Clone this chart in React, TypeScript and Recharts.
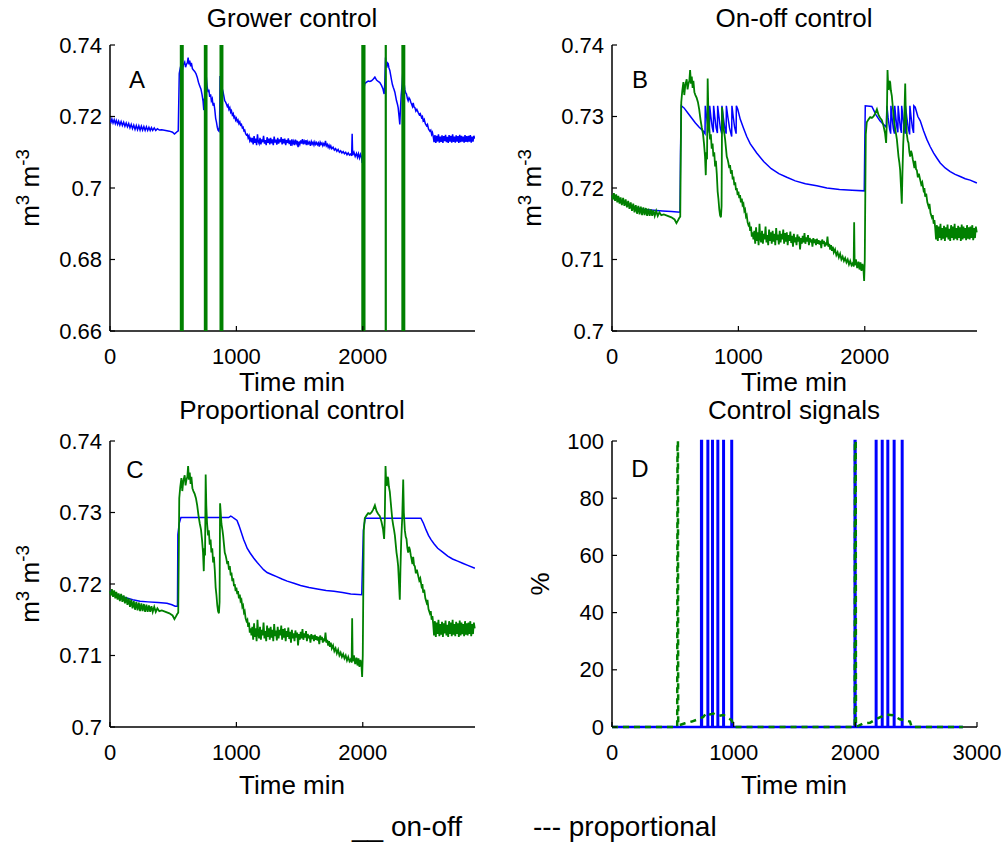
import React from 'react';
import { LineChart, Line, XAxis, YAxis } from 'recharts';

const FONT = '"Liberation Sans", Arial, Helvetica, sans-serif';
const BLUE = '#0000ff';
const GREEN = '#008000';

type Pt = [number, number];

// measured substrate moisture (m3 m-3), time in minutes
const measured: Pt[] = [
  [0, 0.719], [8, 0.7184], [15, 0.7193], [24, 0.7182], [33, 0.7191], [42, 0.718], [50, 0.7189], [60, 0.7178],
  [68, 0.7187], [78, 0.7176], [88, 0.7186], [98, 0.7175], [108, 0.7184], [118, 0.7173], [128, 0.7182], [138, 0.7171],
  [148, 0.718], [158, 0.7168], [168, 0.7178], [178, 0.7166], [188, 0.7176], [198, 0.7164], [208, 0.7175], [218, 0.7163],
  [228, 0.7174], [238, 0.7162], [248, 0.7173], [258, 0.7162], [268, 0.7172], [278, 0.7161], [288, 0.7171], [298, 0.7161],
  [308, 0.717], [318, 0.7161], [328, 0.7169], [338, 0.7161], [350, 0.7168], [362, 0.7161], [375, 0.7166], [390, 0.7162],
  [410, 0.7163], [440, 0.7161], [470, 0.7159], [495, 0.7156], [510, 0.7151], [520, 0.7154], [532, 0.7158], [540, 0.716],
  [548, 0.732], [556, 0.7336], [565, 0.7348], [572, 0.733], [580, 0.7344], [591, 0.7352], [598, 0.7338], [604, 0.7345],
  [612, 0.735], [618, 0.7365], [625, 0.7346], [631, 0.7356], [638, 0.734], [644, 0.735], [652, 0.7334], [660, 0.733],
  [670, 0.7326], [680, 0.732], [690, 0.731], [700, 0.7296], [710, 0.7285], [720, 0.7276], [728, 0.7262], [736, 0.7244],
  [742, 0.7218], [746, 0.725], [752, 0.724], [757, 0.7353], [762, 0.731], [768, 0.7285], [776, 0.7268], [782, 0.7275],
  [789, 0.7255], [796, 0.7262], [802, 0.7244], [809, 0.725], [816, 0.723], [822, 0.7238], [829, 0.722], [836, 0.7195],
  [842, 0.7185], [849, 0.717], [855, 0.7162], [862, 0.7159], [867, 0.7175], [871, 0.7313], [876, 0.73], [882, 0.7284],
  [890, 0.7275], [895, 0.7268], [902, 0.7255], [908, 0.7244], [915, 0.724], [921, 0.7235], [928, 0.7228], [934, 0.7232],
  [941, 0.722], [948, 0.7225], [955, 0.7212], [961, 0.7216], [968, 0.7204], [975, 0.7208], [981, 0.7197], [987, 0.72],
  [994, 0.719], [1000, 0.7195], [1007, 0.7186], [1013, 0.719], [1020, 0.718], [1027, 0.7185], [1033, 0.7176], [1040, 0.7178],
  [1047, 0.7168], [1053, 0.717], [1060, 0.716], [1066, 0.7162], [1073, 0.7152], [1080, 0.7148], [1087, 0.715], [1093, 0.714],
  [1100, 0.7146], [1106, 0.7132], [1113, 0.7138], [1119, 0.7128], [1126, 0.714], [1133, 0.7122], [1140, 0.7145], [1146, 0.7126],
  [1153, 0.7138], [1160, 0.712], [1167, 0.715], [1173, 0.713], [1180, 0.7124], [1187, 0.714], [1194, 0.7122], [1201, 0.7136],
  [1208, 0.7128], [1215, 0.7146], [1222, 0.7124], [1229, 0.7134], [1236, 0.712], [1243, 0.7142], [1250, 0.7126], [1257, 0.7138],
  [1264, 0.7122], [1271, 0.714], [1278, 0.7125], [1285, 0.7136], [1292, 0.712], [1299, 0.7144], [1306, 0.7127], [1313, 0.7135],
  [1320, 0.7121], [1327, 0.714], [1334, 0.7124], [1341, 0.7136], [1348, 0.7128], [1355, 0.7142], [1362, 0.7122], [1369, 0.7137],
  [1376, 0.7125], [1383, 0.7138], [1390, 0.712], [1397, 0.7134], [1404, 0.7126], [1411, 0.7139], [1418, 0.7123], [1425, 0.7133],
  [1432, 0.7118], [1439, 0.7136], [1446, 0.7124], [1453, 0.7131], [1460, 0.712], [1467, 0.7135], [1474, 0.7125], [1481, 0.7132],
  [1488, 0.7114], [1495, 0.713], [1502, 0.7122], [1509, 0.7133], [1516, 0.7124], [1523, 0.7137], [1530, 0.7122], [1537, 0.7131],
  [1544, 0.7125], [1551, 0.7134], [1558, 0.712], [1565, 0.713], [1572, 0.7124], [1579, 0.7128], [1586, 0.7118], [1593, 0.713],
  [1600, 0.7123], [1607, 0.7128], [1614, 0.712], [1621, 0.7129], [1628, 0.7122], [1635, 0.7127], [1642, 0.7121], [1649, 0.7126],
  [1656, 0.7116], [1663, 0.7128], [1670, 0.7122], [1677, 0.7126], [1684, 0.7118], [1691, 0.7124], [1698, 0.712], [1705, 0.7132],
  [1712, 0.7118], [1719, 0.7122], [1726, 0.7114], [1733, 0.712], [1740, 0.7112], [1747, 0.7118], [1755, 0.711], [1765, 0.7114],
  [1775, 0.7106], [1785, 0.711], [1795, 0.7103], [1805, 0.7108], [1815, 0.71], [1825, 0.7104], [1835, 0.7098], [1845, 0.7102],
  [1855, 0.7096], [1865, 0.71], [1875, 0.7093], [1885, 0.7098], [1895, 0.7092], [1905, 0.7095], [1912, 0.709], [1916, 0.7152],
  [1920, 0.7092], [1930, 0.71], [1940, 0.7088], [1950, 0.7097], [1958, 0.7086], [1966, 0.7096], [1974, 0.7084], [1982, 0.7094],
  [1990, 0.7085], [1995, 0.707], [2000, 0.71], [2008, 0.7275], [2016, 0.7292], [2030, 0.7296], [2043, 0.7299], [2056, 0.7298],
  [2069, 0.73], [2082, 0.7304], [2096, 0.731], [2109, 0.7302], [2122, 0.7298], [2135, 0.7295], [2148, 0.7287], [2160, 0.7277],
  [2169, 0.7263], [2174, 0.729], [2180, 0.7365], [2186, 0.734], [2191, 0.7339], [2196, 0.735], [2201, 0.7348], [2207, 0.7336],
  [2214, 0.7329], [2221, 0.7315], [2228, 0.7301], [2234, 0.729], [2241, 0.7282], [2248, 0.7275], [2254, 0.7268], [2261, 0.7255],
  [2267, 0.7244], [2274, 0.7235], [2280, 0.7225], [2287, 0.72], [2293, 0.7178], [2298, 0.722], [2304, 0.726], [2312, 0.7292],
  [2320, 0.7346], [2325, 0.73], [2333, 0.7275], [2340, 0.7266], [2346, 0.7263], [2353, 0.725], [2359, 0.7244], [2366, 0.7252],
  [2373, 0.7248], [2380, 0.724], [2386, 0.7235], [2393, 0.7228], [2399, 0.7238], [2406, 0.7226], [2412, 0.7225], [2420, 0.7215],
  [2428, 0.722], [2439, 0.7211], [2447, 0.7205], [2455, 0.7208], [2465, 0.7197], [2472, 0.72], [2478, 0.7188], [2486, 0.7192],
  [2495, 0.718], [2505, 0.7174], [2512, 0.7178], [2520, 0.7165], [2531, 0.7159], [2538, 0.7162], [2545, 0.715], [2551, 0.7155],
  [2557, 0.7145], [2564, 0.7128], [2571, 0.7148], [2578, 0.7126], [2585, 0.7146], [2592, 0.713], [2599, 0.715], [2606, 0.7127],
  [2613, 0.7144], [2620, 0.7129], [2627, 0.7147], [2634, 0.7126], [2641, 0.7145], [2648, 0.7131], [2655, 0.7149], [2662, 0.7128],
  [2669, 0.7143], [2676, 0.7126], [2683, 0.7148], [2690, 0.713], [2697, 0.7146], [2704, 0.7127], [2711, 0.715], [2718, 0.7129],
  [2725, 0.7144], [2732, 0.7127], [2739, 0.7147], [2746, 0.713], [2753, 0.7145], [2760, 0.7126], [2767, 0.7149], [2774, 0.7128],
  [2781, 0.7146], [2788, 0.713], [2795, 0.7144], [2802, 0.7127], [2809, 0.7148], [2816, 0.7129], [2823, 0.7145], [2830, 0.7128],
  [2837, 0.7146], [2844, 0.713], [2851, 0.7148], [2858, 0.7127], [2865, 0.7144], [2872, 0.713], [2879, 0.7146], [2886, 0.7138],
];

// simulated moisture, on-off control
const onOffSim: Pt[] = [
  [0, 0.7188], [40, 0.7186], [80, 0.7181], [120, 0.7177], [160, 0.7174], [200, 0.7172], [260, 0.717], [330, 0.7169],
  [400, 0.7168], [470, 0.7167], [538, 0.7166], [542, 0.725], [548, 0.7315], [570, 0.7312], [600, 0.7305], [630, 0.7298],
  [660, 0.7291], [690, 0.7285], [715, 0.7281], [736, 0.7276], [738, 0.7315], [748, 0.73], [760, 0.7285], [771, 0.7277],
  [773, 0.7315], [782, 0.73], [793, 0.7285], [802, 0.7278], [804, 0.7315], [813, 0.73], [824, 0.7284], [834, 0.7277],
  [836, 0.7315], [846, 0.73], [857, 0.7284], [868, 0.7276], [870, 0.7315], [880, 0.73], [892, 0.7284], [903, 0.7276],
  [905, 0.7315], [916, 0.73], [930, 0.7284], [947, 0.7272], [949, 0.7315], [959, 0.73], [970, 0.7285], [982, 0.7276],
  [984, 0.7315], [995, 0.731], [1015, 0.7296], [1040, 0.7284], [1066, 0.7272], [1093, 0.7262], [1145, 0.7249], [1200, 0.7237],
  [1260, 0.7227], [1320, 0.722], [1383, 0.7215], [1450, 0.721], [1530, 0.7206], [1620, 0.7203], [1700, 0.72], [1800, 0.7198],
  [1900, 0.7197], [1996, 0.7196], [2000, 0.726], [2004, 0.7315], [2056, 0.7314], [2090, 0.7302], [2120, 0.7294], [2148, 0.7289],
  [2170, 0.7285], [2175, 0.7315], [2185, 0.7298], [2197, 0.7282], [2205, 0.7276], [2207, 0.7315], [2216, 0.7298], [2226, 0.7283],
  [2235, 0.7276], [2237, 0.7315], [2246, 0.7298], [2255, 0.7284], [2262, 0.7278], [2264, 0.7315], [2273, 0.7298], [2282, 0.7284],
  [2290, 0.7277], [2292, 0.7315], [2302, 0.7298], [2312, 0.7283], [2320, 0.7276], [2322, 0.7315], [2333, 0.7298], [2345, 0.7283],
  [2355, 0.7275], [2357, 0.7315], [2366, 0.73], [2377, 0.7284], [2386, 0.7277], [2388, 0.7315], [2399, 0.7313], [2420, 0.73],
  [2439, 0.7294], [2465, 0.728], [2491, 0.7268], [2517, 0.7258], [2544, 0.7249], [2570, 0.7242], [2597, 0.7235], [2636, 0.7228],
  [2676, 0.7223], [2715, 0.7219], [2755, 0.7216], [2795, 0.7213], [2834, 0.7211], [2887, 0.7207],
];

// simulated moisture, proportional control
const propSim: Pt[] = [
  [0, 0.719], [60, 0.7185], [120, 0.7181], [180, 0.7178], [238, 0.7176], [300, 0.7175], [380, 0.7174], [450, 0.7173],
  [490, 0.7171], [516, 0.7169], [534, 0.7169], [537, 0.7269], [548, 0.7285], [561, 0.7293], [700, 0.7293], [800, 0.7293],
  [900, 0.7293], [939, 0.7293], [955, 0.7295], [966, 0.7294], [980, 0.7292], [1005, 0.7289], [1020, 0.7282], [1032, 0.7276],
  [1045, 0.7269], [1058, 0.7262], [1072, 0.7256], [1085, 0.725], [1110, 0.7243], [1138, 0.7236], [1165, 0.723], [1190, 0.7225],
  [1215, 0.722], [1243, 0.7216], [1283, 0.7213], [1323, 0.721], [1360, 0.7207], [1402, 0.7204], [1455, 0.7201], [1508, 0.7198],
  [1575, 0.7195], [1640, 0.7193], [1710, 0.7191], [1772, 0.719], [1840, 0.7188], [1905, 0.7186], [1992, 0.7185], [1998, 0.723],
  [2005, 0.7275], [2019, 0.7292], [2200, 0.7292], [2300, 0.7292], [2400, 0.7292], [2460, 0.7292], [2480, 0.7285], [2500, 0.7276],
  [2520, 0.7268], [2540, 0.7262], [2565, 0.7256], [2593, 0.725], [2630, 0.7245], [2672, 0.7239], [2710, 0.7235], [2751, 0.7232],
  [2790, 0.7229], [2831, 0.7226], [2887, 0.7222],
];

// grower irrigation events: [start min, duration min]
const growerIrrigation: Pt[] = [[561, 14], [751, 12], [875, 14], [1997, 16], [2182, 0], [2314, 14]];

// on-off valve pulses in panel D: [start min, duration min]
const onOffPulses: Pt[] = [
  [733, 6], [786, 4], [824, 4], [868, 4], [915, 4], [982, 4],
  [1995, 6], [2169, 4], [2219, 4], [2265, 4], [2317, 4], [2383, 4],
];

// proportional control signal (%)
const propSignal: Pt[] = [
  [0, 0], [536, 0], [538, 100], [542, 100], [544, 0.5], [600, 1.3], [655, 1.9], [709, 2.7], [750, 3.5], [778, 5.0],
  [805, 4.4], [832, 4.7], [873, 3.9], [915, 4.2], [956, 3.2], [984, 2.3], [997, 0.9], [1011, 0], [1995, 0], [1997, 100],
  [2003, 100], [2005, 0], [2063, 1.2], [2120, 1.5], [2161, 2.5], [2227, 3.9], [2270, 4.3], [2309, 4.1], [2366, 2.7],
  [2449, 1.9], [2463, 0], [2884, 0],
];

const SIGNAL_END = 2884;
const T_MAX = 2888;

const moistureTicksA = [0.66, 0.68, 0.7, 0.72, 0.74];
const moistureTicksBC = [0.7, 0.71, 0.72, 0.73, 0.74];
const signalTicks = [0, 20, 40, 60, 80, 100];
const timeTicks = [0, 1000, 2000];
const timeTicksD = [0, 1000, 2000, 3000];

const toRows = (pts: Pt[]) => pts.map(([t, v]) => ({ t, v }));

// on/off events -> square pulses between 0 and 100 %
const pulseRows = (events: Pt[], end: number) => {
  const rows = [{ t: 0, v: 0 }];
  events.forEach(([start, dur]) => {
    rows.push({ t: start, v: 0 }, { t: start, v: 100 }, { t: start + dur, v: 100 }, { t: start + dur, v: 0 });
  });
  rows.push({ t: end, v: 0 });
  return rows;
};

const TICK_LEN = 5;
const tickStyle = { fontFamily: FONT, fontSize: 22, fill: '#000' };

const BottomTick = (p: any) => (
  <g>
    <line x1={p.x} x2={p.x} y1={p.y} y2={p.y - TICK_LEN} stroke="#000" strokeWidth={1.2} />
    <text x={p.x} y={p.y + 25} textAnchor="middle" dominantBaseline="central" style={tickStyle}>
      {p.payload.value}
    </text>
  </g>
);
const LeftTick = (p: any) => (
  <g>
    <line x1={p.x} x2={p.x + TICK_LEN} y1={p.y} y2={p.y} stroke="#000" strokeWidth={1.2} />
    <text x={p.x - 8} y={p.y} textAnchor="end" dominantBaseline="central" style={tickStyle}>
      {p.payload.value}
    </text>
  </g>
);
const TopTick = (p: any) => (
  <line x1={p.x} x2={p.x} y1={p.y} y2={p.y + TICK_LEN} stroke="#000" strokeWidth={1.2} />
);
const RightTick = (p: any) => (
  <line x1={p.x} x2={p.x - TICK_LEN} y1={p.y} y2={p.y} stroke="#000" strokeWidth={1.2} />
);

const axisLine = { stroke: '#000', strokeWidth: 1.5 };

function Panel({ left, top, xTicks, xMax, yTicks, yDomain, clip = false, children }: any) {
  return (
    <div style={{ position: 'absolute', left, top }}>
      <LineChart width={505} height={396} margin={{ top: 40, right: 40, bottom: 40, left: 0 }}>
        <XAxis dataKey="t" type="number" domain={[0, xMax]} ticks={xTicks} allowDataOverflow={clip} interval={0}
          height={30} tickSize={0} tickMargin={0} tickLine={false} axisLine={axisLine} tick={<BottomTick />} />
        <XAxis xAxisId="top" orientation="top" dataKey="t" type="number" domain={[0, xMax]} ticks={xTicks}
          allowDataOverflow interval={0} height={0} tickSize={0} tickMargin={0} tickLine={false}
          axisLine={axisLine} tick={<TopTick />} />
        <YAxis type="number" domain={yDomain} ticks={yTicks} allowDataOverflow={clip} interval={0} width={100}
          tickSize={0} tickMargin={0} tickLine={false} axisLine={axisLine} tick={<LeftTick />} />
        <YAxis yAxisId="right" orientation="right" type="number" domain={yDomain} ticks={yTicks}
          allowDataOverflow interval={0} width={0} tickSize={0} tickMargin={0} tickLine={false}
          axisLine={axisLine} tick={<RightTick />} />
        {children}
      </LineChart>
    </div>
  );
}

const lineProps = {
  dataKey: 'v', type: 'linear' as const, dot: false, activeDot: false, isAnimationActive: false, zIndex: 600,
};

const textBase: React.CSSProperties = {
  position: 'absolute',
  fontFamily: FONT,
  color: '#000',
  whiteSpace: 'nowrap',
  lineHeight: 1,
  transform: 'translate(-50%, -50%)',
};

const Label = ({ x, y, size = 26, rotate = false, children }: any) => (
  <div style={{ ...textBase, left: x, top: y, fontSize: size,
    transform: rotate ? 'translate(-50%, -50%) rotate(-90deg)' : textBase.transform }}>
    {children}
  </div>
);

const Unit = () => (
  <span>
    m<sup style={{ fontSize: '0.72em' }}>3</sup> m<sup style={{ fontSize: '0.72em' }}>-3</sup>
  </span>
);

export default function App() {
  return (
    <div style={{ position: 'absolute', left: 0, top: 0, width: 1008, height: 845, background: '#fff', overflow: 'hidden' }}>
      <Panel left={10} top={5} xTicks={timeTicks} xMax={T_MAX} yTicks={moistureTicksA} yDomain={[0.66, 0.74]} clip>
        <Line {...lineProps} data={toRows(measured)} stroke={BLUE} strokeWidth={1.5} />
        <Line {...lineProps} data={pulseRows(growerIrrigation, T_MAX)} stroke={GREEN} strokeWidth={2.2} />
      </Panel>
      <Panel left={512} top={5} xTicks={timeTicks} xMax={T_MAX} yTicks={moistureTicksBC} yDomain={[0.7, 0.74]}>
        <Line {...lineProps} data={toRows(onOffSim)} stroke={BLUE} strokeWidth={1.5} />
        <Line {...lineProps} data={toRows(measured)} stroke={GREEN} strokeWidth={1.8} />
      </Panel>
      <Panel left={10} top={401} xTicks={timeTicks} xMax={T_MAX} yTicks={moistureTicksBC} yDomain={[0.7, 0.74]}>
        <Line {...lineProps} data={toRows(propSim)} stroke={BLUE} strokeWidth={1.5} />
        <Line {...lineProps} data={toRows(measured)} stroke={GREEN} strokeWidth={1.8} />
      </Panel>
      <Panel left={512} top={401} xTicks={timeTicksD} xMax={3000} yTicks={signalTicks} yDomain={[0, 100]}>
        <Line {...lineProps} data={pulseRows(onOffPulses, SIGNAL_END)} stroke={BLUE} strokeWidth={2.5} />
        <Line {...lineProps} data={toRows(propSignal)} stroke={GREEN} strokeWidth={2.5} strokeDasharray="6 5" />
      </Panel>

      <Label x={292} y={18}>Grower control</Label>
      <Label x={794} y={18}>On-off control</Label>
      <Label x={292} y={410}>Proportional control</Label>
      <Label x={794} y={410}>Control signals</Label>

      <Label x={292} y={382}>Time min</Label>
      <Label x={794} y={382}>Time min</Label>
      <Label x={292} y={785}>Time min</Label>
      <Label x={794} y={785}>Time min</Label>

      <Label x={28} y={188} rotate><Unit /></Label>
      <Label x={530} y={188} rotate><Unit /></Label>
      <Label x={28} y={584} rotate><Unit /></Label>
      <Label x={540} y={584} rotate>%</Label>

      <Label x={137} y={80} size={24}>A</Label>
      <Label x={640} y={80} size={24}>B</Label>
      <Label x={135} y={470} size={24}>C</Label>
      <Label x={640} y={469} size={24}>D</Label>

      <div style={{ ...textBase, transform: 'none', left: 352, top: 813, fontSize: 28, whiteSpace: 'pre' }}>__ on-off</div>
      <div style={{ ...textBase, transform: 'none', left: 533, top: 813, fontSize: 28, whiteSpace: 'pre' }}>--- proportional</div>
    </div>
  );
}
